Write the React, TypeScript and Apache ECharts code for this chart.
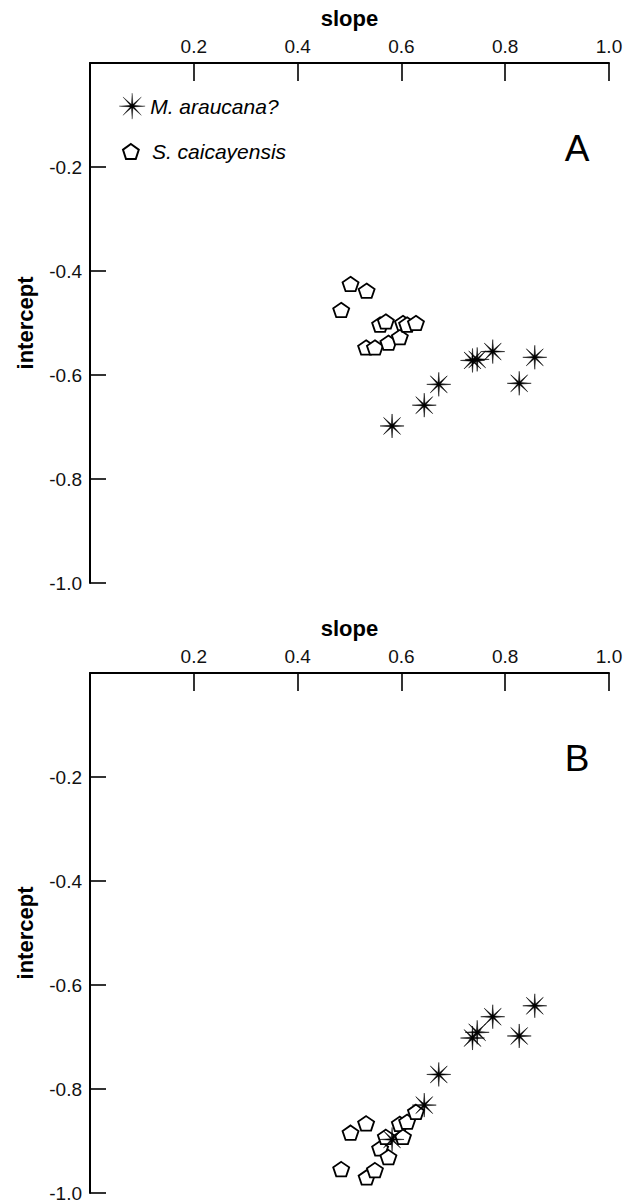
import React, { useEffect, useRef } from "react";
import * as echarts from "echarts";

// ---- data ----
const xTicks = [0.2, 0.4, 0.6, 0.8, 1.0];
const yTicks = [-0.2, -0.4, -0.6, -0.8, -1.0];

const starSlope = [0.582, 0.644, 0.672, 0.737, 0.746, 0.776, 0.827, 0.857];
const starInterceptA = [-0.698, -0.658, -0.618, -0.572, -0.570, -0.555, -0.616, -0.566];
const starInterceptB = [-0.897, -0.831, -0.772, -0.702, -0.691, -0.661, -0.698, -0.640];

const pentSlope = [0.484, 0.502, 0.532, 0.533, 0.549, 0.559, 0.570, 0.575, 0.597, 0.603, 0.611, 0.628];
const pentInterceptA = [-0.475, -0.425, -0.547, -0.438, -0.547, -0.503, -0.497, -0.538, -0.527, -0.500, -0.503, -0.500];
const pentInterceptB = [-0.954, -0.884, -0.866, -0.970, -0.956, -0.914, -0.892, -0.931, -0.867, -0.892, -0.863, -0.844];

const seriesNames = ["M. araucana?", "S. caicayensis"];
const panelLabels = ["A", "B"];

const FONT = "'Liberation Sans', Arial, sans-serif";

function starPath(): string {
  const R = 12;
  const r = 1.9;
  const pts: string[] = [];
  for (let k = 0; k < 16; k++) {
    const a = (k * Math.PI) / 8;
    const rad = k % 2 === 0 ? R : r;
    pts.push(`${(12 + rad * Math.cos(a)).toFixed(3)},${(12 + rad * Math.sin(a)).toFixed(3)}`);
  }
  return "path://M" + pts.join("L") + "Z";
}

function pentPath(): string {
  const pts: string[] = [];
  for (let k = 0; k < 5; k++) {
    const a = ((-90 + k * 72) * Math.PI) / 180;
    pts.push(`${(10 + 10 * Math.cos(a)).toFixed(3)},${(10 + 10 * Math.sin(a)).toFixed(3)}`);
  }
  return "path://M" + pts.join("L") + "Z";
}

const STAR = starPath();
const PENT = pentPath();

const zip = (xs: number[], ys: number[]) => xs.map((x, i) => [x, ys[i]]);

export default function App() {
  const ref = useRef<HTMLDivElement>(null);
  useEffect(() => {
    if (!ref.current) return;
    const chart = echarts.init(ref.current, null, { renderer: "svg" });
    const grids = [
      { left: 90, top: 63, width: 519, height: 520 },
      { left: 90, top: 673, width: 519, height: 520 },
    ];
    const nameStyle = { fontFamily: FONT, fontWeight: "bold", fontSize: 22, color: "#000" };
    const xAxis = grids.map((_, i) => ({
      type: "value",
      gridIndex: i,
      position: "top",
      min: 0,
      max: 1,
      interval: 0.2,
      name: "slope",
      nameLocation: "middle",
      nameGap: 34,
      nameTextStyle: nameStyle,
      axisLine: { show: true, lineStyle: { color: "#000", width: 2 } },
      axisTick: { show: true, inside: true, length: 18, lineStyle: { color: "#000", width: 1.6 } },
      axisLabel: {
        margin: 7,
        fontFamily: FONT,
        fontSize: 19,
        color: "#111",
        formatter: (v: number) => (xTicks.some((t) => Math.abs(t - v) < 1e-9) ? v.toFixed(1) : ""),
      },
      splitLine: { show: false },
    }));
    const yAxis = grids.map((_, i) => ({
      type: "value",
      gridIndex: i,
      position: "left",
      min: -1,
      max: 0,
      interval: 0.2,
      name: "intercept",
      nameLocation: "middle",
      nameGap: 54,
      nameTextStyle: nameStyle,
      axisLine: { show: true, onZero: false, lineStyle: { color: "#000", width: 2 } },
      axisTick: { show: true, inside: true, length: 16, lineStyle: { color: "#000", width: 1.6 } },
      axisLabel: {
        margin: 8,
        fontFamily: FONT,
        fontSize: 19,
        color: "#111",
        formatter: (v: number) => (yTicks.some((t) => Math.abs(t - v) < 1e-9) ? v.toFixed(1) : ""),
      },
      splitLine: { show: false },
    }));
    const pentInts = [pentInterceptA, pentInterceptB];
    const starInts = [starInterceptA, starInterceptB];
    const series: any[] = [];
    grids.forEach((_, i) => {
      series.push({
        type: "scatter",
        name: seriesNames[1],
        xAxisIndex: i,
        yAxisIndex: i,
        symbol: PENT,
        symbolSize: [16, 15.2],
        symbolKeepAspect: true,
        itemStyle: { color: "#fff", borderColor: "#000", borderWidth: 1.8, opacity: 1 },
        data: zip(pentSlope, pentInts[i]),
        z: 2,
      });
      series.push({
        type: "scatter",
        name: seriesNames[0],
        xAxisIndex: i,
        yAxisIndex: i,
        symbol: STAR,
        symbolSize: 24,
        symbolKeepAspect: true,
        itemStyle: { color: "#000", borderColor: "#000", borderWidth: 0.5, opacity: 1 },
        data: zip(starSlope, starInts[i]),
        z: 3,
      });
    });
    const legendText = { fontFamily: FONT, fontStyle: "italic", fontSize: 21, color: "#000" };
    chart.setOption({
      animation: false,
      backgroundColor: "#fff",
      grid: grids,
      xAxis,
      yAxis,
      series,
      legend: [
        {
          data: [seriesNames[0]],
          left: 119,
          top: 93,
          padding: 0,
          itemWidth: 26,
          itemHeight: 26,
          itemGap: 0,
          selectedMode: false,
          itemStyle: { borderWidth: 0.3 },
          textStyle: legendText,
        },
        {
          data: [seriesNames[1]],
          left: 122,
          top: 141,
          padding: 0,
          itemWidth: 16,
          itemHeight: 15,
          itemGap: 0,
          selectedMode: false,
          textStyle: { ...legendText, padding: [0, 0, 0, 8] },
        },
      ],
      graphic: panelLabels.map((t, i) => ({
        type: "text",
        x: 577,
        y: 148 + i * 610,
        style: {
          text: t,
          fontFamily: FONT,
          fontSize: 37,
          fill: "#000",
          textAlign: "center",
          textVerticalAlign: "middle",
        },
      })),
    });
    return () => chart.dispose();
  }, []);
  return (
    <div
      ref={ref}
      style={{ position: "absolute", left: 0, top: 0, width: 638, height: 1204, background: "#fff" }}
    />
  );
}
